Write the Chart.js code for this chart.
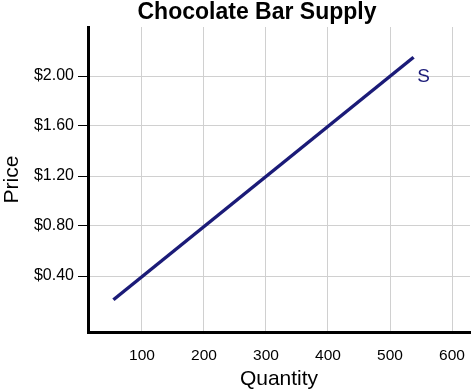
<!DOCTYPE html>
<html>
<head>
<meta charset="utf-8">
<script src="https://cdn.jsdelivr.net/npm/chart.js@4"></script>
<style>
html,body{margin:0;padding:0;background:#fff;}
#wrap{width:475px;height:392px;}
</style>
</head>
<body>
<div id="wrap"><canvas id="chart" width="475" height="392"></canvas></div>
<script>
// supply curve
const quantity=[54,538];
const price=[0.21,2.15];
const xTicks=[100,200,300,400,500,600];
const yTicks=[0.4,0.8,1.2,1.6,2.0];
const curveLabel='S';
const labelAt=[554,1.99];
const chartTitle='Chocolate Bar Supply';

const navy='#1b1b78';
const font='"Liberation Sans", Arial, Helvetica, sans-serif';

// title sits a bit right of the canvas centre in the original, so draw it by hand
const titlePlugin={
 id:'sideTitle',
 afterDraw(c){
  const ctx=c.ctx;
  ctx.save();
  ctx.fillStyle='#000';
  ctx.font='bold 23px '+font;
  ctx.textAlign='center';ctx.textBaseline='alphabetic';
  ctx.fillText(chartTitle,257,19);
  ctx.restore();
 }
};

const labelPlugin={
 id:'curveLabel',
 afterDatasetsDraw(c){
  const ctx=c.ctx;
  ctx.save();
  ctx.fillStyle=navy;
  ctx.font='19px '+font;
  ctx.textAlign='center';ctx.textBaseline='middle';
  ctx.fillText(curveLabel,c.scales.x.getPixelForValue(labelAt[0]),c.scales.y.getPixelForValue(labelAt[1]));
  ctx.restore();
 }
};

new Chart(document.getElementById('chart'),{
 type:'scatter',
 data:{datasets:[{data:quantity.map((q,i)=>({x:q,y:price[i]})),showLine:true,borderColor:navy,borderWidth:3.5,pointRadius:0}]},
 options:{
  responsive:false,animation:false,
  layout:{padding:{right:5,left:0,top:27,bottom:0}},
  plugins:{legend:{display:false},tooltip:{enabled:false},title:{display:false}},
  scales:{
   x:{type:'linear',min:13,max:629,
    afterBuildTicks:s=>{s.ticks=xTicks.map(v=>({value:v}));},
    afterFit:s=>{s.height=60;},
    grid:{color:'#d0d0d0',lineWidth:1,tickColor:'transparent',tickLength:8},
    border:{color:'#000',width:3},
    ticks:{color:'#000',font:{family:font,size:15.5},padding:6},
    title:{display:true,text:'Quantity',color:'#000',font:{family:font,size:21},padding:{top:0,bottom:0}}
   },
   y:{type:'linear',min:-0.048,max:2.392,
    afterBuildTicks:s=>{s.ticks=yTicks.map(v=>({value:v}));},
    afterFit:s=>{s.width=88;},
    grid:{color:'#d0d0d0',lineWidth:1,tickColor:'#000',tickLength:10},
    border:{color:'#000',width:3},
    ticks:{color:'#000',font:{family:font,size:16},padding:4,callback:v=>'$'+v.toFixed(2)},
    title:{display:true,text:'Price',color:'#000',font:{family:font,size:21},padding:{top:0,bottom:0}}
   }
  }
 },
 plugins:[labelPlugin,titlePlugin]
});
</script>
</body>
</html>
